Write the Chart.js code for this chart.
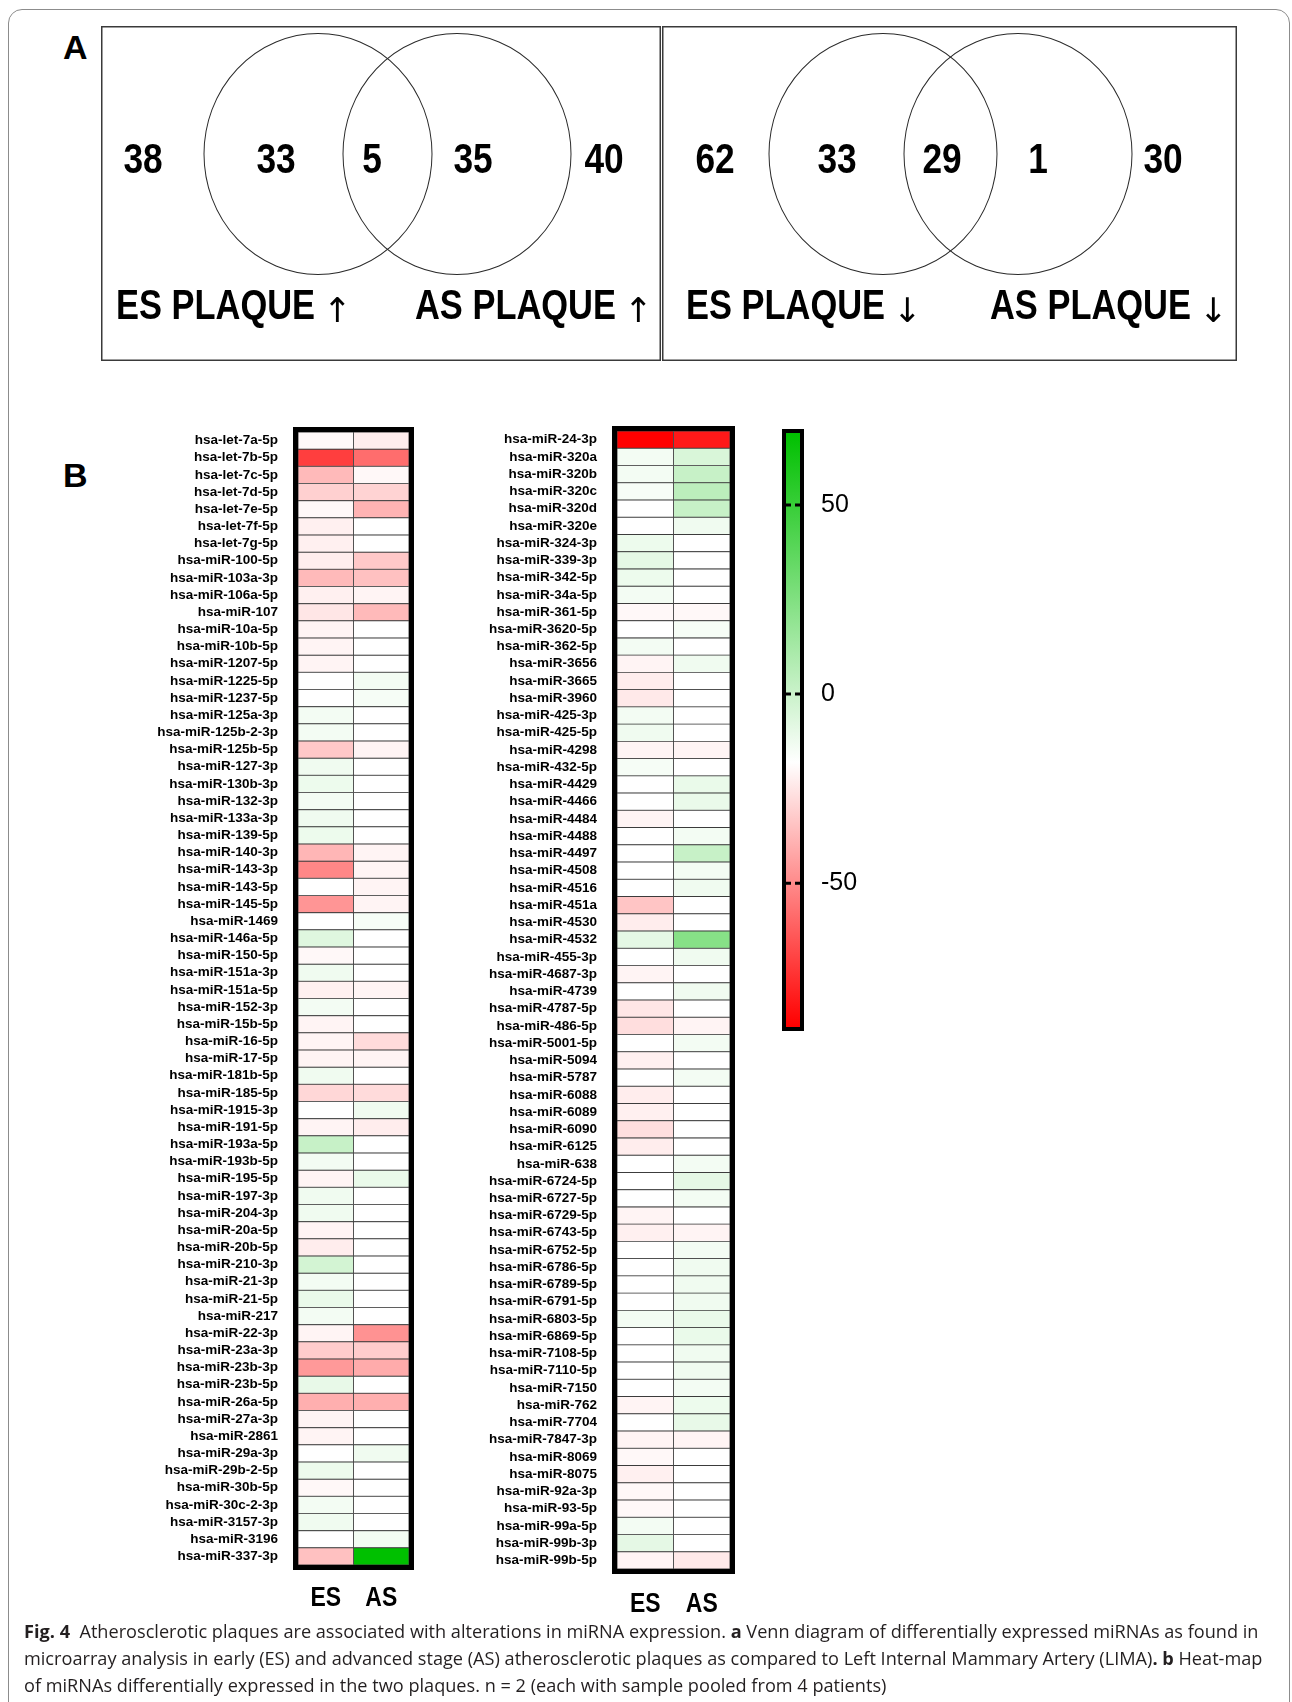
<!DOCTYPE html>
<html>
<head>
<meta charset="utf-8">
<script src="https://cdn.jsdelivr.net/npm/chart.js@4.4.0/dist/chart.umd.min.js"></script>
<style>
  body { margin: 0; background: #fff; width: 1292px; height: 1702px; position: relative; overflow: hidden; font-family: 'Liberation Sans', Arial, sans-serif; }
  canvas { position: absolute; }
  .frame { position: absolute; left: 8px; top: 9px; width: 1280px; height: 1760px; border: 1.5px solid #8c8c8c; border-radius: 14px; }
  .panel { position: absolute; font: bold 34px 'Liberation Sans', Arial, sans-serif; line-height: 34px; color: #000; }
  .caption { position: absolute; left: 24px; top: 1618px; width: 1260px; font-family: 'Open Sans', sans-serif; font-size: 18.15px; line-height: 27px; color: #231f20; white-space: nowrap; }
</style>
</head>
<body>
<div class="frame"></div>
<div class="panel" style="left:63px;top:30px">A</div>
<canvas id="vennUp" width="560" height="335" style="left:101px;top:26px;width:560px;height:335px"></canvas>
<canvas id="vennDown" width="575" height="335" style="left:662px;top:26px;width:575px;height:335px"></canvas>
<div class="panel" style="left:63px;top:458px">B</div>
<canvas id="heatLeft" width="290" height="1210" style="left:140px;top:420px;width:290px;height:1210px"></canvas>
<canvas id="heatRight" width="320" height="1215" style="left:440px;top:420px;width:320px;height:1215px"></canvas>
<canvas id="colorbar" width="120" height="620" style="left:770px;top:420px;width:120px;height:620px"></canvas>
<div class="caption">
  <b>Fig. 4</b>&nbsp; Atherosclerotic plaques are associated with alterations in miRNA expression. <b>a</b> Venn diagram of differentially expressed miRNAs as found in<br>
  microarray analysis in early (ES) and advanced stage (AS) atherosclerotic plaques as compared to Left Internal Mammary Artery (LIMA)<b>. b</b> Heat-map<br>
  of miRNAs differentially expressed in the two plaques. n = 2 (each with sample pooled from 4 patients)
</div>
<script>
// Venn counts: outside ES, ES only, both, AS only, outside AS
const vennUpCounts = [38, 33, 5, 35, 40];
const vennDownCounts = [62, 33, 29, 1, 30];
const vennUpLabels = ['ES PLAQUE', 'AS PLAQUE'];
const vennDownLabels = ['ES PLAQUE', 'AS PLAQUE'];

// Heat-map (left block)
const leftMirnas = ['hsa-let-7a-5p', 'hsa-let-7b-5p', 'hsa-let-7c-5p', 'hsa-let-7d-5p', 'hsa-let-7e-5p', 'hsa-let-7f-5p',
  'hsa-let-7g-5p', 'hsa-miR-100-5p', 'hsa-miR-103a-3p', 'hsa-miR-106a-5p', 'hsa-miR-107', 'hsa-miR-10a-5p',
  'hsa-miR-10b-5p', 'hsa-miR-1207-5p', 'hsa-miR-1225-5p', 'hsa-miR-1237-5p', 'hsa-miR-125a-3p', 'hsa-miR-125b-2-3p',
  'hsa-miR-125b-5p', 'hsa-miR-127-3p', 'hsa-miR-130b-3p', 'hsa-miR-132-3p', 'hsa-miR-133a-3p', 'hsa-miR-139-5p',
  'hsa-miR-140-3p', 'hsa-miR-143-3p', 'hsa-miR-143-5p', 'hsa-miR-145-5p', 'hsa-miR-1469', 'hsa-miR-146a-5p',
  'hsa-miR-150-5p', 'hsa-miR-151a-3p', 'hsa-miR-151a-5p', 'hsa-miR-152-3p', 'hsa-miR-15b-5p', 'hsa-miR-16-5p',
  'hsa-miR-17-5p', 'hsa-miR-181b-5p', 'hsa-miR-185-5p', 'hsa-miR-1915-3p', 'hsa-miR-191-5p', 'hsa-miR-193a-5p',
  'hsa-miR-193b-5p', 'hsa-miR-195-5p', 'hsa-miR-197-3p', 'hsa-miR-204-3p', 'hsa-miR-20a-5p', 'hsa-miR-20b-5p',
  'hsa-miR-210-3p', 'hsa-miR-21-3p', 'hsa-miR-21-5p', 'hsa-miR-217', 'hsa-miR-22-3p', 'hsa-miR-23a-3p',
  'hsa-miR-23b-3p', 'hsa-miR-23b-5p', 'hsa-miR-26a-5p', 'hsa-miR-27a-3p', 'hsa-miR-2861', 'hsa-miR-29a-3p',
  'hsa-miR-29b-2-5p', 'hsa-miR-30b-5p', 'hsa-miR-30c-2-3p', 'hsa-miR-3157-3p', 'hsa-miR-3196', 'hsa-miR-337-3p'];
const leftES = [-20, -71, -37, -31, -20, -22, -22, -23, -37, -22, -25, -21, -21, -21, -18, -18, -14, -14, -33, -13, -12, -14,
  -13, -12, -38, -51, -18, -47, -18, -7, -20, -13, -22, -14, -21, -21, -21, -13, -29, -18, -21, 1, -14, -21, -13, -13,
  -21, -23, -3, -14, -11, -14, -21, -32, -46, -10, -40, -21, -21, -18, -12, -20, -14, -13, -18, -35];
const leftAS = [-23, -58, -20, -30, -39, -18, -18, -33, -35, -21, -37, -18, -18, -18, -14, -15, -18, -18, -21, -18, -18, -18,
  -18, -18, -21, -21, -21, -21, -15, -18, -18, -18, -21, -18, -18, -28, -21, -18, -28, -13, -23, -18, -18, -11, -18, -18,
  -18, -18, -18, -18, -18, -18, -48, -32, -41, -18, -40, -18, -18, -13, -18, -18, -18, -18, -14, 69];

// Heat-map (right block)
const rightMirnas = ['hsa-miR-24-3p', 'hsa-miR-320a', 'hsa-miR-320b', 'hsa-miR-320c', 'hsa-miR-320d', 'hsa-miR-320e',
  'hsa-miR-324-3p', 'hsa-miR-339-3p', 'hsa-miR-342-5p', 'hsa-miR-34a-5p', 'hsa-miR-361-5p', 'hsa-miR-3620-5p',
  'hsa-miR-362-5p', 'hsa-miR-3656', 'hsa-miR-3665', 'hsa-miR-3960', 'hsa-miR-425-3p', 'hsa-miR-425-5p',
  'hsa-miR-4298', 'hsa-miR-432-5p', 'hsa-miR-4429', 'hsa-miR-4466', 'hsa-miR-4484', 'hsa-miR-4488',
  'hsa-miR-4497', 'hsa-miR-4508', 'hsa-miR-4516', 'hsa-miR-451a', 'hsa-miR-4530', 'hsa-miR-4532',
  'hsa-miR-455-3p', 'hsa-miR-4687-3p', 'hsa-miR-4739', 'hsa-miR-4787-5p', 'hsa-miR-486-5p', 'hsa-miR-5001-5p',
  'hsa-miR-5094', 'hsa-miR-5787', 'hsa-miR-6088', 'hsa-miR-6089', 'hsa-miR-6090', 'hsa-miR-6125',
  'hsa-miR-638', 'hsa-miR-6724-5p', 'hsa-miR-6727-5p', 'hsa-miR-6729-5p', 'hsa-miR-6743-5p', 'hsa-miR-6752-5p',
  'hsa-miR-6786-5p', 'hsa-miR-6789-5p', 'hsa-miR-6791-5p', 'hsa-miR-6803-5p', 'hsa-miR-6869-5p', 'hsa-miR-7108-5p',
  'hsa-miR-7110-5p', 'hsa-miR-7150', 'hsa-miR-762', 'hsa-miR-7704', 'hsa-miR-7847-3p', 'hsa-miR-8069',
  'hsa-miR-8075', 'hsa-miR-92a-3p', 'hsa-miR-93-5p', 'hsa-miR-99a-5p', 'hsa-miR-99b-3p', 'hsa-miR-99b-5p'];
const rightES = [-88, -14, -14, -15, -18, -18, -12, -9, -12, -14, -20, -18, -14, -21, -23, -24, -14, -13, -21, -15, -18, -18,
  -21, -18, -18, -18, -18, -34, -23, -9, -18, -21, -18, -25, -27, -18, -22, -18, -23, -22, -27, -23, -18, -18, -18, -21,
  -22, -18, -18, -18, -18, -14, -18, -18, -18, -18, -21, -18, -21, -20, -22, -20, -20, -14, -9, -21];
const rightAS = [-81, -5, 1, 5, 1, -13, -18, -18, -18, -18, -20, -15, -18, -13, -18, -18, -18, -18, -21, -18, -11, -11,
  -18, -14, 1, -14, -13, -18, -18, 23, -13, -18, -13, -18, -21, -14, -18, -14, -18, -18, -18, -18, -14, -9, -14, -18,
  -21, -14, -13, -13, -13, -11, -11, -13, -13, -14, -12, -10, -21, -18, -18, -18, -18, -18, -18, -24];

const columnLabels = ['ES', 'AS'];
const colorbarTicks = [-50, 0, 50];

// colour scale: red at data min, white point, green at data max
const allValues = [...leftES, ...leftAS, ...rightES, ...rightAS];
const dataMin = Math.min(...allValues);
const dataMax = Math.max(...allValues);
const WHITE_POINT = -18;

function heatColor(v) {
  if (v <= WHITE_POINT) {
    const t = (WHITE_POINT - v) / (WHITE_POINT - dataMin);
    const c = Math.round(255 * (1 - t));
    return `rgb(255,${c},${c})`;
  }
  const t = (v - WHITE_POINT) / (dataMax - WHITE_POINT);
  const c = Math.round(255 * (1 - t));
  return `rgb(${c},${Math.round(255 - 63 * t)},${c})`;
}

// narrow bold text (Arial Narrow look)
function narrowText(ctx, text, x, y, size, align) {
  ctx.save();
  ctx.translate(x, y);
  ctx.scale(0.82, 1);
  ctx.font = `bold ${size}px 'Liberation Sans', Arial, sans-serif`;
  ctx.textAlign = align;
  ctx.textBaseline = 'alphabetic';
  ctx.fillStyle = '#000';
  ctx.fillText(text, 0, 0);
  const w = ctx.measureText(text).width * 0.82;
  ctx.restore();
  return w;
}

// drop the extra space Chart.js keeps for edge tick labels
function noEdgePadding(s) {
  s.paddingTop = 0;
  s.paddingBottom = 0;
}

// Venn diagrams
function makeVenn(id, counts, labels, arrow, layout) {
  const canvas = document.getElementById(id);
  const W = canvas.width, H = canvas.height;
  const vennText = {
    id: 'vennText',
    // circles in the original are slightly taller than wide
    beforeDatasetDraw(chart) {
      const { ctx, scales } = chart;
      const cy = scales.y.getPixelForValue(layout.circles[0][1]);
      ctx.save();
      ctx.translate(0, cy);
      ctx.scale(1, 1.057);
      ctx.translate(0, -cy);
    },
    afterDatasetDraw(chart) {
      chart.ctx.restore();
    },
    afterDatasetsDraw(chart) {
      const { ctx, scales } = chart;
      counts.forEach((n, i) => {
        narrowText(ctx, String(n), scales.x.getPixelForValue(layout.countX[i]), scales.y.getPixelForValue(layout.countY), 43, 'center');
      });
      labels.forEach((t, i) => {
        const x = scales.x.getPixelForValue(layout.labelX[i]);
        const y = scales.y.getPixelForValue(layout.labelY);
        const w = narrowText(ctx, t, x, y, 42, 'left');
        ctx.save();
        ctx.font = "34px 'DejaVu Sans', sans-serif";
        ctx.fillStyle = '#000';
        ctx.textAlign = 'left';
        ctx.fillText(arrow, x + w + 8, y + 3);
        ctx.restore();
      });
      ctx.save();
      ctx.strokeStyle = '#3a3a3a';
      ctx.lineWidth = 1.5;
      ctx.strokeRect(0.75, 0.75, W - 1.5, H - 1.5);
      ctx.restore();
    }
  };
  return new Chart(canvas, {
    type: 'scatter',
    data: {
      datasets: [{
        data: layout.circles.map(([x, y]) => ({ x, y })),
        pointRadius: 114,
        pointHoverRadius: 114,
        pointBackgroundColor: 'rgba(0,0,0,0)',
        pointBorderColor: '#2a2a2a',
        pointBorderWidth: 1,
        clip: false
      }]
    },
    options: {
      responsive: false,
      animation: false,
      layout: { padding: 0, autoPadding: false },
      plugins: { legend: { display: false }, tooltip: { enabled: false } },
      scales: {
        x: { display: false, min: 0, max: W },
        y: { display: false, min: 0, max: H, reverse: true }
      }
    },
    plugins: [vennText]
  });
}

makeVenn('vennUp', vennUpCounts, vennUpLabels, '\u2191', {
  circles: [[217, 128], [356, 128]],
  countX: [42, 175, 271, 372, 503], countY: 147,
  labelX: [15, 314], labelY: 293
});
makeVenn('vennDown', vennDownCounts, vennDownLabels, '\u2193', {
  circles: [[221, 128], [356, 128]],
  countX: [53, 175, 280, 376, 501], countY: 147,
  labelX: [24, 328], labelY: 293
});

// Heat-maps as floating horizontal bars, one colour per cell
function heatFrame(labelOffset) {
  return {
    id: 'heatFrame',
    afterDatasetsDraw(chart) {
      const { ctx, chartArea: a, scales } = chart;
      ctx.save();
      ctx.strokeStyle = '#000';
      ctx.lineWidth = 5;
      ctx.strokeRect(a.left - 2.5, a.top - 2.5, a.right - a.left + 5, a.bottom - a.top + 5);
      columnLabels.forEach((t, i) => {
        narrowText(ctx, t, scales.x.getPixelForValue(i + 0.5), a.bottom + labelOffset, 28, 'center');
      });
      ctx.restore();
    }
  };
}

function makeHeatmap(id, names, es, as, axisWidth, pad, labelOffset) {
  return new Chart(document.getElementById(id), {
    type: 'bar',
    data: {
      labels: names,
      datasets: [
        { label: columnLabels[0], data: es.map(() => [0, 1]), backgroundColor: es.map(heatColor) },
        { label: columnLabels[1], data: as.map(() => [1, 2]), backgroundColor: as.map(heatColor) }
      ]
    },
    options: {
      indexAxis: 'y',
      responsive: false,
      animation: false,
      layout: { padding: pad },
      plugins: { legend: { display: false }, tooltip: { enabled: false } },
      datasets: {
        bar: {
          barPercentage: 1,
          categoryPercentage: 1,
          grouped: false,
          borderWidth: 0.8,
          borderColor: '#3c3c3c',
          borderSkipped: false
        }
      },
      scales: {
        x: { display: false, min: 0, max: 2 },
        y: {
          afterFit: s => { s.width = axisWidth; noEdgePadding(s); },
          grid: { display: false, drawTicks: false },
          border: { display: false },
          ticks: {
            autoSkip: false,
            padding: 20,
            color: '#000',
            font: { family: "'Liberation Sans', Arial, sans-serif", size: 13.5, weight: 'bold' }
          }
        }
      }
    },
    plugins: [heatFrame(labelOffset)]
  });
}

makeHeatmap('heatLeft', leftMirnas, leftES, leftAS, 158, { top: 12, bottom: 65, right: 21, left: 0 }, 41);
makeHeatmap('heatRight', rightMirnas, rightES, rightAS, 177, { top: 11, bottom: 66, right: 30, left: 0 }, 43);

// Colour bar
const barDecor = {
  id: 'barDecor',
  afterDatasetsDraw(chart) {
    const { ctx, chartArea: a, scales } = chart;
    ctx.save();
    ctx.strokeStyle = '#000';
    ctx.lineWidth = 4;
    ctx.strokeRect(a.left - 2, a.top - 2, a.right - a.left + 4, a.bottom - a.top + 4);
    ctx.lineWidth = 3;
    colorbarTicks.forEach(v => {
      const y = scales.y.getPixelForValue(v);
      ctx.beginPath();
      ctx.moveTo(a.left, y); ctx.lineTo(a.left + 5, y);
      ctx.moveTo(a.right - 5, y); ctx.lineTo(a.right, y);
      ctx.stroke();
    });
    ctx.restore();
  }
};

new Chart(document.getElementById('colorbar'), {
  type: 'bar',
  data: {
    labels: [''],
    datasets: [{
      data: [[dataMin, dataMax]],
      borderWidth: 0,
      barPercentage: 1,
      categoryPercentage: 1,
      backgroundColor: c => {
        const { chart } = c;
        if (!chart.chartArea) return null;
        const ys = chart.scales.y;
        const g = chart.ctx.createLinearGradient(0, ys.getPixelForValue(dataMin), 0, ys.getPixelForValue(dataMax));
        g.addColorStop(0, heatColor(dataMin));
        g.addColorStop((WHITE_POINT - dataMin) / (dataMax - dataMin), heatColor(WHITE_POINT));
        g.addColorStop(1, heatColor(dataMax));
        return g;
      }
    }]
  },
  options: {
    responsive: false,
    animation: false,
    layout: { padding: { left: 16, top: 13, bottom: 13, right: 0 } },
    plugins: { legend: { display: false }, tooltip: { enabled: false } },
    scales: {
      x: { display: false },
      y: {
        position: 'right',
        min: dataMin,
        max: dataMax,
        afterBuildTicks: s => { s.ticks = colorbarTicks.map(v => ({ value: v })); },
        afterFit: s => { s.width = 90; noEdgePadding(s); },
        grid: { display: false, drawTicks: false },
        border: { display: false },
        ticks: {
          padding: 21,
          color: '#000',
          font: { family: "'Liberation Sans', Arial, sans-serif", size: 25 }
        }
      }
    }
  },
  plugins: [barDecor]
});
</script>
</body>
</html>
